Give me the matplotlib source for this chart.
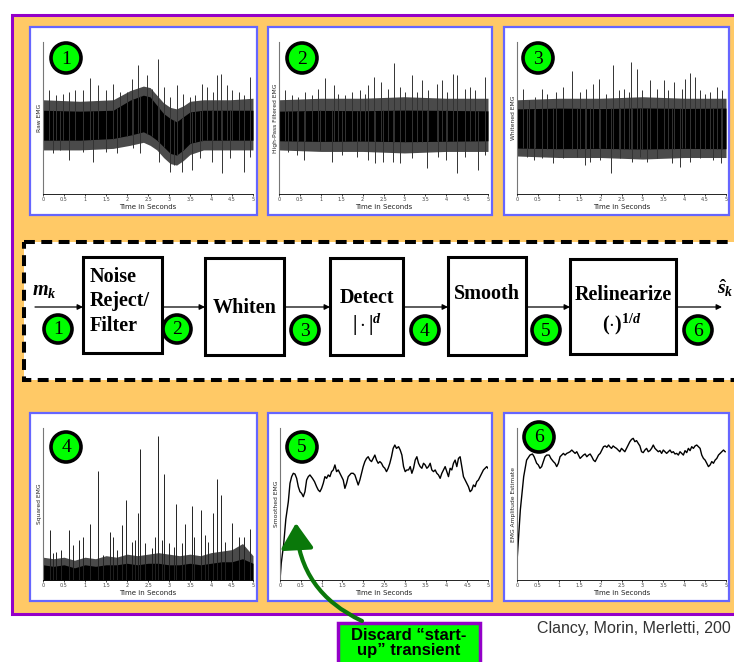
import numpy as np
import matplotlib
matplotlib.use('Agg')
import matplotlib.pyplot as plt
from matplotlib.patches import Rectangle, Circle, FancyArrowPatch

plt.rcParams['mathtext.fontset'] = 'custom'
plt.rcParams['mathtext.rm'] = 'Liberation Serif:bold'
plt.rcParams['mathtext.it'] = 'Liberation Serif:bold:italic'
plt.rcParams['mathtext.bf'] = 'Liberation Serif:bold'

# time axis shared by all six traces
tick_seconds = [0, 0.5, 1, 1.5, 2, 2.5, 3, 3.5, 4, 4.5, 5]
tick_labels = ['0', '0.5', '1', '1.5', '2', '2.5', '3', '3.5', '4', '4.5', '5']

# 1 - raw EMG: solid core, dense fringe and the larger excursions
raw_band_t = [0, 0.88, 1.67, 2.07, 2.39, 2.55, 2.71, 2.87, 3.03, 3.18, 3.34, 3.50, 3.82, 4.46, 5.0]
raw_band_top = [0.551, 0.545, 0.551, 0.617, 0.650, 0.639, 0.584, 0.530, 0.497, 0.475, 0.508, 0.540, 0.551, 0.551, 0.551]
raw_band_bot = [0.354, 0.354, 0.365, 0.387, 0.409, 0.387, 0.354, 0.311, 0.267, 0.256, 0.289, 0.333, 0.354, 0.354, 0.354]
raw_fringe_top = [0.62, 0.61, 0.62, 0.68, 0.71, 0.70, 0.65, 0.60, 0.57, 0.56, 0.58, 0.61, 0.62, 0.62, 0.63]
raw_fringe_bot = [0.29, 0.29, 0.30, 0.32, 0.34, 0.32, 0.29, 0.24, 0.20, 0.19, 0.22, 0.26, 0.29, 0.29, 0.29]
raw_up_t = [0.135, 0.32, 0.48, 0.62, 0.76, 0.955, 1.115, 1.31, 1.50, 1.66, 1.83, 1.99, 2.11, 2.27, 2.47, 2.59, 2.73,
            2.87, 3.03, 3.18, 3.34, 3.50, 3.62, 3.78, 3.90, 4.04, 4.14, 4.24, 4.38, 4.50, 4.66, 4.78, 4.92]
raw_up_v = [0.683, 0.650, 0.659, 0.672, 0.683, 0.683, 0.764, 0.716, 0.683, 0.726, 0.672, 0.672, 0.759, 0.847, 0.781,
            0.694, 0.891, 0.705, 0.639, 0.716, 0.661, 0.639, 0.650, 0.726, 0.705, 0.672, 0.781, 0.792, 0.716, 0.683,
            0.672, 0.650, 0.770]
raw_down_t = [0.24, 0.40, 0.62, 0.955, 1.19, 1.51, 1.75, 2.15, 2.31, 2.75, 3.03, 3.11, 3.30, 3.54, 3.74, 4.02, 4.26,
              4.46, 4.78, 4.94]
raw_down_v = [0.267, 0.289, 0.223, 0.278, 0.212, 0.278, 0.267, 0.300, 0.267, 0.212, 0.147, 0.190, 0.147, 0.158, 0.234,
              0.212, 0.136, 0.234, 0.147, 0.245]

# 2 - high-pass filtered EMG
hp_band_t = [0, 1, 2, 3, 4, 5]
hp_band_top = [0.545, 0.550, 0.548, 0.552, 0.550, 0.547]
hp_band_bot = [0.350, 0.346, 0.348, 0.344, 0.347, 0.350]
hp_fringe_top = [0.62, 0.63, 0.63, 0.64, 0.63, 0.63]
hp_fringe_bot = [0.29, 0.28, 0.28, 0.27, 0.28, 0.28]
hp_up_t = [0.14, 0.30, 0.46, 0.62, 0.78, 0.94, 1.11, 1.31, 1.42, 1.58, 1.74, 1.93, 2.05, 2.13, 2.28, 2.44, 2.61, 2.75,
           2.89, 3.01, 3.17, 3.29, 3.41, 3.57, 3.77, 3.89, 4.03, 4.16, 4.27, 4.44, 4.56, 4.68, 4.92]
hp_up_v = [0.683, 0.650, 0.639, 0.672, 0.650, 0.694, 0.764, 0.716, 0.661, 0.650, 0.672, 0.683, 0.661, 0.716, 0.770,
           0.737, 0.694, 0.864, 0.705, 0.672, 0.781, 0.672, 0.748, 0.683, 0.726, 0.748, 0.672, 0.792, 0.781, 0.694,
           0.705, 0.683, 0.770]
hp_down_t = [0.22, 0.42, 0.61, 0.98, 1.26, 1.50, 1.86, 2.13, 2.29, 2.49, 2.73, 2.89, 3.17, 3.55, 3.81, 4.00, 4.26,
             4.44, 4.76, 4.92]
hp_down_v = [0.278, 0.256, 0.223, 0.289, 0.212, 0.256, 0.245, 0.223, 0.201, 0.212, 0.212, 0.201, 0.234, 0.169, 0.245,
             0.223, 0.136, 0.245, 0.158, 0.256]

# 3 - whitened EMG
wh_band_t = [0, 1, 2, 3, 4, 5]
wh_band_top = [0.560, 0.565, 0.562, 0.566, 0.563, 0.565]
wh_band_bot = [0.302, 0.298, 0.300, 0.296, 0.300, 0.298]
wh_fringe_top = [0.62, 0.63, 0.63, 0.64, 0.63, 0.63]
wh_fringe_bot = [0.25, 0.24, 0.24, 0.23, 0.24, 0.24]
wh_up_t = [0.14, 0.28, 0.44, 0.60, 0.72, 0.94, 1.11, 1.31, 1.51, 1.66, 1.82, 1.97, 2.13, 2.29, 2.43, 2.55, 2.67, 2.73,
           2.87, 2.99, 3.17, 3.34, 3.52, 3.62, 3.76, 3.94, 4.03, 4.14, 4.26, 4.38, 4.50, 4.62, 4.78, 4.90]
wh_up_v = [0.694, 0.617, 0.639, 0.694, 0.661, 0.672, 0.705, 0.810, 0.672, 0.694, 0.726, 0.759, 0.661, 0.847, 0.683,
           0.694, 0.672, 0.869, 0.825, 0.683, 0.748, 0.694, 0.748, 0.683, 0.737, 0.694, 0.759, 0.799, 0.770, 0.683,
           0.661, 0.672, 0.705, 0.683]
wh_down_t = [0.24, 0.40, 0.60, 0.86, 1.11, 1.43, 1.63, 1.75, 1.99, 2.25, 2.47, 2.75, 2.95, 3.11, 3.34, 3.70, 3.90,
             4.14, 4.38, 4.70, 4.87]
wh_down_v = [0.245, 0.223, 0.234, 0.201, 0.234, 0.245, 0.190, 0.212, 0.223, 0.136, 0.234, 0.212, 0.245, 0.212, 0.234,
             0.201, 0.179, 0.212, 0.234, 0.223, 0.201]

# 4 - squared EMG
sq_base_t = [0, 0.25, 0.5, 0.75, 1, 1.25, 1.5, 1.75, 2, 2.25, 2.5, 2.75, 3, 3.25, 3.5, 3.75, 4, 4.25, 4.5, 4.75, 5]
sq_base_v = [0.10, 0.09, 0.10, 0.08, 0.10, 0.09, 0.10, 0.10, 0.11, 0.10, 0.11, 0.11, 0.10, 0.10, 0.11, 0.10, 0.11,
             0.12, 0.12, 0.14, 0.11]
sq_fringe_v = [0.15, 0.14, 0.15, 0.13, 0.15, 0.14, 0.16, 0.15, 0.17, 0.16, 0.17, 0.18, 0.17, 0.16, 0.17, 0.16, 0.18,
               0.19, 0.20, 0.24, 0.16]
sq_spike_t = [0.16, 0.24, 0.32, 0.44, 0.62, 0.72, 0.86, 0.96, 1.11, 1.31, 1.42, 1.59, 1.66, 1.77, 1.89, 1.97, 2.11,
              2.19, 2.27, 2.31, 2.43, 2.59, 2.67, 2.73, 2.83, 2.88, 2.99, 3.11, 3.17, 3.30, 3.37, 3.54, 3.60, 3.76,
              3.86, 3.94, 4.04, 4.14, 4.24, 4.34, 4.50, 4.66, 4.78, 4.92]
sq_spike_v = [0.330, 0.176, 0.187, 0.198, 0.330, 0.231, 0.264, 0.286, 0.369, 0.714, 0.165, 0.319, 0.286, 0.198, 0.363,
              0.527, 0.253, 0.264, 0.440, 0.862, 0.242, 0.209, 0.286, 0.949, 0.264, 0.697, 0.242, 0.220, 0.499, 0.242,
              0.369, 0.490, 0.286, 0.462, 0.297, 0.253, 0.440, 0.666, 0.560, 0.253, 0.374, 0.286, 0.286, 0.334]

# 5 - smoothed EMG
sm_t = [0, 0.03, 0.09, 0.14, 0.20, 0.24, 0.28, 0.32, 0.36, 0.40, 0.44, 0.48, 0.52, 0.56, 0.60, 0.64, 0.68, 0.72, 0.78,
        0.83, 0.88, 0.92, 0.96, 1.00, 1.04, 1.08, 1.12, 1.16, 1.20, 1.24, 1.28, 1.32, 1.36, 1.40, 1.44, 1.48, 1.52,
        1.56, 1.60, 1.64, 1.71, 1.76, 1.80, 1.84, 1.88, 1.92, 1.96, 2.00, 2.04, 2.08, 2.12, 2.16, 2.20, 2.24, 2.28,
        2.32, 2.36, 2.40, 2.44, 2.48, 2.52, 2.56, 2.60, 2.64, 2.68, 2.72, 2.76, 2.80, 2.85, 2.89, 2.93, 2.97, 3.01,
        3.05, 3.09, 3.13, 3.17, 3.21, 3.25, 3.29, 3.33, 3.37, 3.41, 3.45, 3.49, 3.53, 3.57, 3.61, 3.65, 3.69, 3.73,
        3.77, 3.81, 3.85, 3.89, 3.93, 3.97, 4.01, 4.05, 4.09, 4.13, 4.17, 4.21, 4.25, 4.29, 4.33, 4.37, 4.41, 4.45,
        4.49, 4.53, 4.57, 4.61, 4.65, 4.69, 4.73, 4.77, 4.81, 4.85, 4.89, 4.93, 4.97, 5.0]
sm_v = [0, 0.11, 0.24, 0.40, 0.515, 0.636, 0.680, 0.702, 0.697, 0.669, 0.614, 0.581, 0.570, 0.548, 0.581, 0.658,
        0.680, 0.691, 0.669, 0.647, 0.614, 0.592, 0.581, 0.603, 0.636, 0.680, 0.669, 0.691, 0.680, 0.713, 0.724,
        0.757, 0.713, 0.724, 0.702, 0.680, 0.658, 0.603, 0.636, 0.680, 0.702, 0.702, 0.691, 0.658, 0.625, 0.658,
        0.702, 0.746, 0.779, 0.800, 0.811, 0.789, 0.779, 0.800, 0.822, 0.789, 0.768, 0.779, 0.768, 0.746, 0.735,
        0.713, 0.735, 0.768, 0.811, 0.866, 0.888, 0.866, 0.877, 0.855, 0.822, 0.746, 0.713, 0.724, 0.724, 0.746,
        0.702, 0.735, 0.789, 0.811, 0.768, 0.746, 0.735, 0.768, 0.757, 0.735, 0.746, 0.768, 0.724, 0.713, 0.724,
        0.702, 0.691, 0.669, 0.702, 0.724, 0.746, 0.713, 0.680, 0.735, 0.724, 0.768, 0.789, 0.746, 0.800, 0.811,
        0.746, 0.680, 0.658, 0.636, 0.614, 0.581, 0.592, 0.625, 0.614, 0.647, 0.658, 0.680, 0.702, 0.724, 0.735,
        0.746, 0.735]

# 6 - EMG amplitude estimate
amp_t = [0, 0.08, 0.16, 0.23, 0.31, 0.37, 0.41, 0.47, 0.51, 0.55, 0.59, 0.63, 0.67, 0.71, 0.77, 0.81, 0.87, 0.91, 0.95,
         0.99, 1.03, 1.07, 1.11, 1.15, 1.19, 1.23, 1.27, 1.31, 1.35, 1.39, 1.43, 1.47, 1.51, 1.55, 1.59, 1.63, 1.67,
         1.71, 1.75, 1.79, 1.83, 1.87, 1.91, 1.95, 1.99, 2.03, 2.07, 2.11, 2.15, 2.19, 2.22, 2.26, 2.30, 2.34, 2.38,
         2.42, 2.46, 2.50, 2.54, 2.58, 2.62, 2.66, 2.70, 2.74, 2.78, 2.82, 2.86, 2.90, 2.94, 2.98, 3.02, 3.06, 3.10,
         3.14, 3.18, 3.22, 3.26, 3.30, 3.34, 3.38, 3.42, 3.46, 3.50, 3.54, 3.58, 3.62, 3.66, 3.70, 3.74, 3.78, 3.82,
         3.86, 3.90, 3.94, 3.98, 4.02, 4.06, 4.10, 4.14, 4.18, 4.22, 4.26, 4.30, 4.34, 4.38, 4.42, 4.46, 4.50, 4.54,
         4.58, 4.62, 4.66, 4.70, 4.74, 4.78, 4.82, 4.86, 4.90, 4.94, 4.98]
amp_v = [0.121, 0.462, 0.680, 0.789, 0.822, 0.829, 0.811, 0.768, 0.757, 0.735, 0.746, 0.779, 0.811, 0.822, 0.822,
         0.800, 0.779, 0.768, 0.746, 0.768, 0.811, 0.822, 0.833, 0.822, 0.833, 0.838, 0.844, 0.855, 0.844, 0.833,
         0.844, 0.822, 0.800, 0.811, 0.822, 0.829, 0.811, 0.822, 0.829, 0.811, 0.789, 0.779, 0.800, 0.822, 0.833,
         0.855, 0.877, 0.882, 0.873, 0.888, 0.877, 0.866, 0.882, 0.873, 0.866, 0.855, 0.844, 0.866, 0.855, 0.844,
         0.866, 0.888, 0.910, 0.925, 0.932, 0.910, 0.917, 0.899, 0.882, 0.844, 0.838, 0.855, 0.866, 0.844, 0.851,
         0.866, 0.888, 0.866, 0.855, 0.844, 0.851, 0.833, 0.855, 0.844, 0.833, 0.844, 0.855, 0.838, 0.844, 0.829,
         0.833, 0.822, 0.844, 0.833, 0.822, 0.851, 0.838, 0.866, 0.851, 0.877, 0.866, 0.882, 0.888, 0.877, 0.866,
         0.822, 0.800, 0.789, 0.768, 0.746, 0.757, 0.779, 0.768, 0.789, 0.800, 0.822, 0.833, 0.844, 0.855, 0.844]

stage_names = ['Noise\nReject/\nFilter', 'Whiten', 'Detect', 'Smooth', 'Relinearize']
y_names = ['Raw EMG', 'High-Pass Filtered EMG', 'Whitened EMG', 'Squared EMG', 'Smoothed EMG',
           'EMG Amplitude Estimate']

orange = '#ffc966'
purple = '#9400c8'
blue = '#6666ff'
green = '#00ff00'
fringe = '#4a4a4a'

W, H = 734, 662
fig = plt.figure(figsize=(W / 100, H / 100), dpi=100)
bg = fig.add_axes([0, 0, 1, 1])
bg.set_xlim(0, W)
bg.set_ylim(H, 0)
bg.axis('off')

bg.add_patch(Rectangle((11.5, 14.5), 740, 599, fc=orange, ec=purple, lw=2.2))

frames = [(30, 27, 257, 215), (268, 27, 492, 215), (504, 27, 729, 215),
          (30, 413, 257, 601), (268, 413, 492, 601), (504, 413, 729, 601)]
for x0, y0, x1, y1 in frames:
    bg.add_patch(Rectangle((x0, y0), x1 - x0, y1 - y0, fc='white', ec=blue, lw=1.6))

# processing chain
bg.add_patch(Rectangle((23.5, 242), 740, 137.5, fc='white', ec='black', lw=2.9, ls=(0, (2.7, 1.6))))
boxes = [(83, 257, 162, 353), (205, 258, 284, 355), (330, 258, 403, 355), (448, 257, 526, 355), (570, 259, 676, 354)]
for x0, y0, x1, y1 in boxes:
    bg.add_patch(Rectangle((x0, y0), x1 - x0, y1 - y0, fc='white', ec='black', lw=2.2))
for xa, xb in [(35, 83), (162, 205), (284, 330), (403, 448), (526, 570), (676, 722)]:
    bg.annotate('', xy=(xb, 307), xytext=(xa, 307),
                arrowprops=dict(arrowstyle='-|>', color='black', lw=0.9, mutation_scale=8,
                                shrinkA=0, shrinkB=0))

serif = 'Liberation Serif'
bg.text(90, 277, 'Noise', family=serif, weight='bold', fontsize=14.5, ha='left', va='center')
bg.text(90, 301, 'Reject/', family=serif, weight='bold', fontsize=14.5, ha='left', va='center')
bg.text(90, 326, 'Filter', family=serif, weight='bold', fontsize=14.5, ha='left', va='center')
bg.text(244.5, 308, stage_names[1], family=serif, weight='bold', fontsize=14.5, ha='center', va='center')
bg.text(367, 298, stage_names[2], family=serif, weight='bold', fontsize=14.5, ha='center', va='center')
bg.text(367, 325, r'$|\cdot|^d$', fontsize=14.5, ha='center', va='center')
bg.text(487, 294, stage_names[3], family=serif, weight='bold', fontsize=14.5, ha='center', va='center')
bg.text(623, 295, stage_names[4], family=serif, weight='bold', fontsize=14.5, ha='center', va='center')
bg.text(622, 324, r'$(\cdot)^{1/d}$', fontsize=14.5, ha='center', va='center')
bg.text(32, 290, r'$m_k$', fontsize=14.5, ha='left', va='center')
bg.text(733.5, 288, r'$\hat{s}_k$', fontsize=14, ha='right', va='center')


def badge(x, y, label, r=14):
    bg.add_patch(Circle((x, y), r, fc=green, ec='black', lw=2.6, zorder=5))
    bg.text(x, y + 1, label, family=serif, fontsize=14, ha='center', va='center', zorder=6)


for (x, y), n in zip([(58, 329), (177, 329), (305, 330), (425, 330), (546, 330), (698, 330)], '123456'):
    badge(x, y, n)
for (x, y), n in zip([(66, 58), (302, 58), (538, 58), (66, 447), (302, 447), (539, 437)], '123456'):
    badge(x, y, n, r=15)


def panel(left, top, right, bottom, ylabel):
    ax = fig.add_axes([left / W, 1 - bottom / H, (right - left) / W, (bottom - top) / H])
    ax.patch.set_alpha(0)
    ax.set_xlim(0, 5)
    ax.set_ylim(0, 1)
    for side in ['top', 'right']:
        ax.spines[side].set_visible(False)
    ax.spines['left'].set_color('#777777')
    ax.spines['left'].set_linewidth(0.8)
    ax.spines['bottom'].set_linewidth(0.6)
    ax.set_yticks([])
    ax.set_xticks(tick_seconds)
    ax.set_xticklabels(tick_labels)
    ax.tick_params(axis='x', length=1.5, width=0.5, pad=1, labelsize=3.5, labelcolor='#444444')
    ax.set_xlabel('Time in Seconds', fontsize=5, labelpad=1, color='#222222')
    ax.set_ylabel(ylabel, fontsize=4.3, labelpad=1, color='#222222')
    return ax


def noisy(ax, band_t, band_top, band_bot, fringe_top, fringe_bot, up_t, up_v, down_t, down_v):
    ax.fill_between(band_t, fringe_bot, fringe_top, color=fringe, lw=0)
    ax.fill_between(band_t, band_bot, band_top, color='black', lw=0)
    ax.vlines(up_t, np.interp(up_t, band_t, band_bot), up_v, color='#333333', lw=0.7)
    ax.vlines(down_t, down_v, np.interp(down_t, band_t, band_top), color='#333333', lw=0.7)


ax1 = panel(43, 42, 253, 194, y_names[0])
noisy(ax1, raw_band_t, raw_band_top, raw_band_bot, raw_fringe_top, raw_fringe_bot,
      raw_up_t, raw_up_v, raw_down_t, raw_down_v)
ax2 = panel(279, 42, 488, 194, y_names[1])
noisy(ax2, hp_band_t, hp_band_top, hp_band_bot, hp_fringe_top, hp_fringe_bot,
      hp_up_t, hp_up_v, hp_down_t, hp_down_v)
ax3 = panel(517, 42, 726, 194, y_names[2])
noisy(ax3, wh_band_t, wh_band_top, wh_band_bot, wh_fringe_top, wh_fringe_bot,
      wh_up_t, wh_up_v, wh_down_t, wh_down_v)

ax4 = panel(43, 428, 253, 580, y_names[3])
ax4.fill_between(sq_base_t, 0, sq_fringe_v, color=fringe, lw=0)
ax4.fill_between(sq_base_t, 0, sq_base_v, color='black', lw=0)
ax4.vlines(sq_spike_t, 0, sq_spike_v, color='#222222', lw=0.7)

ax5 = panel(280, 428, 488, 580, y_names[4])
ax5.plot(sm_t, sm_v, color='black', lw=1.0)

ax6 = panel(517, 428, 726, 580, y_names[5])
ax6.plot(amp_t, amp_v, color='black', lw=1.0)

# note about the filter start-up
bg.add_patch(Rectangle((337.5, 622.5), 142.5, 50, fc=green, ec=purple, lw=2.5))
bg.text(409, 635, 'Discard \u201cstart-', family='Liberation Sans', weight='bold', fontsize=12,
        ha='center', va='center')
bg.text(409, 650, 'up\u201d transient', family='Liberation Sans', weight='bold', fontsize=12,
        ha='center', va='center')
fig.add_artist(FancyArrowPatch((362, 621), (296, 523), transform=bg.transData,
                               connectionstyle='arc3,rad=-0.3',
                               arrowstyle='-|>,head_length=0.7,head_width=0.45',
                               mutation_scale=22, lw=3, color='#0a780a',
                               shrinkA=0, shrinkB=0, zorder=10))

bg.text(537, 633, 'Clancy, Morin, Merletti, 200', family='Liberation Sans', fontsize=11.5,
        color='#333333', ha='left', va='baseline')

fig.savefig('out.png', dpi=100)
